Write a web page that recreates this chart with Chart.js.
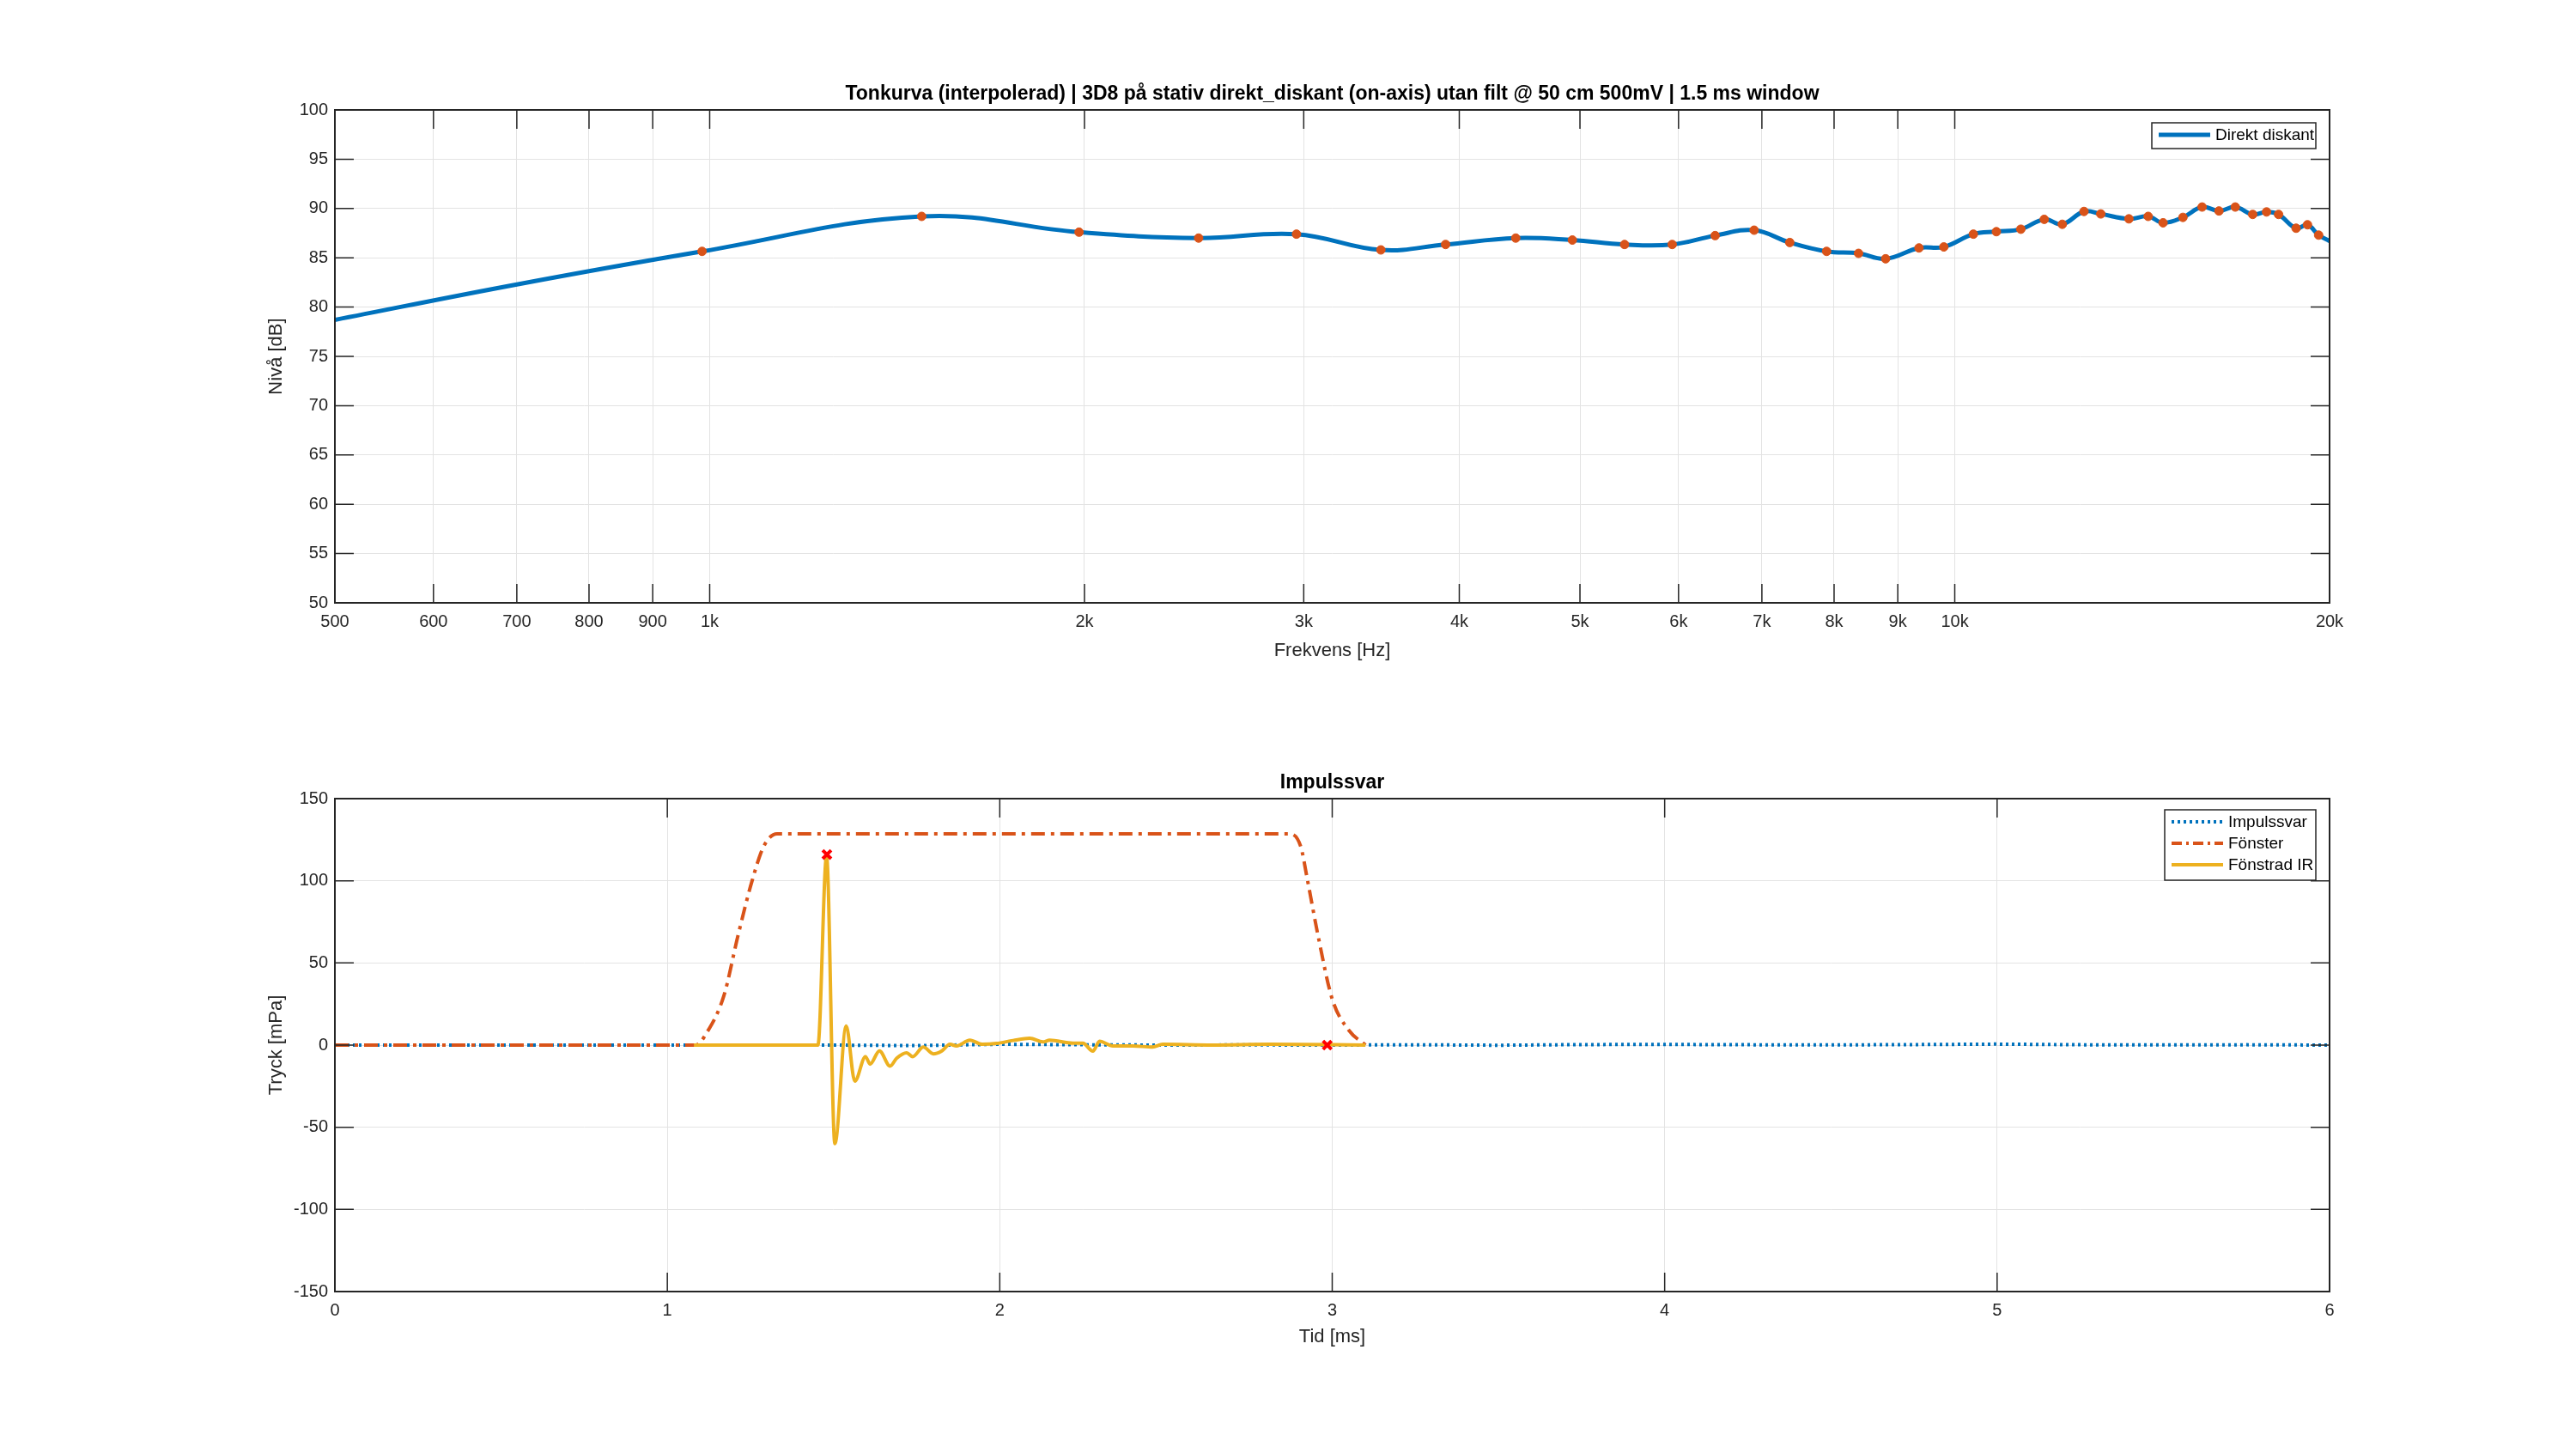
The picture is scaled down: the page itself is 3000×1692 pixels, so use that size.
<!DOCTYPE html>
<html><head><meta charset="utf-8">
<script src="https://cdn.jsdelivr.net/npm/chart.js@4"></script>
<style>body{margin:0;background:#fff}#w1,#w2{position:absolute;left:0;width:3000px;height:846px}#w1{top:0}#w2{top:846px}</style>
</head><body>
<div id="w1"><canvas id="c1"></canvas></div>
<div id="w2"><canvas id="c2"></canvas></div>
<script>
// ---- Top chart data ----
const freqTicks=[500,600,700,800,900,1000,2000,3000,4000,5000,6000,7000,8000,9000,10000,20000];
const freqTickLabels=['500','600','700','800','900','1k','2k','3k','4k','5k','6k','7k','8k','9k','10k','20k'];
const curveFreq=[500,700,986,1480,1980,2470,2960,3460,3900,4440,4930,5430,5930,6420,6900,7370,7890,8370,8800,9360,9800,10350,10800,11300,11800,12200,12700,13100,13800,14300,14700,15250,15800,16300,16800,17350,17800,18200,18800,19200,19600,20000];
const curveLevel=[78.7,82.3,85.65,89.2,87.6,87.0,87.4,85.8,86.35,87.0,86.8,86.35,86.35,87.25,87.8,86.55,85.65,85.45,84.9,86.0,86.1,87.4,87.65,87.9,88.9,88.4,89.7,89.45,88.95,89.2,88.55,89.1,90.15,89.75,90.15,89.4,89.65,89.4,88.0,88.35,87.3,86.7];
const markFreq=curveFreq.slice(2,-1);
const markLevel=curveLevel.slice(2,-1);
// ---- Bottom chart data ----
const impT=[0,0.25,0.5,0.75,1,1.25,1.5,1.75,2,2.25,2.5,2.75,3,3.25,3.5,3.75,4,4.25,4.5,4.75,5,5.25,5.5,5.75,6];
const impV=[0,0,0,0,0,0,0,-0.3,0.5,0.2,0,0.1,0,0.2,-0.1,0.3,0.4,0.2,0.1,0.3,0.6,0.2,0.1,0.2,0];
const winT=[0,1.085,1.12,1.17,1.213,1.255,1.29,1.33,2.87,2.905,2.926,2.957,3.0,3.05,3.1];
const winV=[0,0,8,30,67,100,121,128.6,128.6,121,100,67,28,9,0];
const firT=[1.08,1.453,1.479,1.504,1.538,1.564,1.596,1.61,1.638,1.67,1.69,1.72,1.738,1.77,1.80,1.826,1.85,1.87,1.91,1.947,1.99,2.04,2.09,2.13,2.15,2.22,2.25,2.28,2.30,2.34,2.40,2.46,2.49,2.64,2.81,3.1];
const firV=[0,0,115,-60,11.6,-22,-7,-11.6,-3.5,-12.8,-8,-4.7,-7,-1.2,-5.3,-3.5,0.5,-0.5,3,0.5,1,2.8,4.2,1.9,3,1.2,1.2,-3.7,2.3,-0.5,-0.5,-1.2,0.5,0,0.5,0];
const peakT=[1.48,2.985], peakV=[116,0];

const FONT='"Liberation Sans", Arial, sans-serif';
const zip=(a,b)=>a.map((x,i)=>({x,y:b[i]}));

function framePlugin(title,legend){
 return {id:'frame',afterDraw(ch){
  const c=ch.ctx,a=ch.chartArea;c.save();
  c.strokeStyle='#262626';c.lineWidth=2;
  c.strokeRect(a.left,a.top,a.right-a.left,a.bottom-a.top);
  const xs=ch.scales.x,ys=ch.scales.y;c.lineWidth=1.5;c.beginPath();
  xs.ticks.forEach(t=>{const p=xs.getPixelForValue(t.value);c.moveTo(p,a.top);c.lineTo(p,a.top+22);c.moveTo(p,a.bottom);c.lineTo(p,a.bottom-22);});
  ys.ticks.forEach(t=>{const p=ys.getPixelForValue(t.value);c.moveTo(a.left,p);c.lineTo(a.left+22,p);c.moveTo(a.right,p);c.lineTo(a.right-22,p);});
  c.stroke();
  c.fillStyle='#000';c.font='bold 23px '+FONT;c.textAlign='center';c.textBaseline='middle';
  c.fillText(title,(a.left+a.right)/2,a.top-18);
  const L=legend;c.fillStyle='#fff';c.fillRect(L.x,L.y,L.w,L.h);c.strokeStyle='#262626';c.lineWidth=1.5;c.strokeRect(L.x,L.y,L.w,L.h);
  c.font='19px '+FONT;c.textAlign='left';
  L.items.forEach((it,i)=>{const yy=L.y+14+i*25;c.strokeStyle=it.color;c.lineWidth=it.w;c.setLineDash(it.dash||[]);
   c.beginPath();c.moveTo(L.x+8,yy);c.lineTo(L.x+68,yy);c.stroke();c.setLineDash([]);c.fillStyle='#000';c.fillText(it.text,L.x+74,yy+1);});
  c.restore();}};
}
const gridCol='#e3e3e3';
function tickFont(){return {family:FONT,size:20};}
function titleFont(){return {family:FONT,size:22};}

new Chart(document.getElementById('c1'),{
 type:'line',
 data:{datasets:[
  {data:zip(markFreq,markLevel),showLine:false,pointRadius:5,pointBackgroundColor:'#D95319',pointBorderColor:'#D95319',order:0},
  {data:zip(curveFreq,curveLevel),borderColor:'#0072BD',borderWidth:5,pointRadius:0,tension:0.4,fill:false,order:1}
 ]},
 options:{responsive:true,maintainAspectRatio:false,animation:false,
  layout:{padding:{top:128,left:305,right:287,bottom:71}},
  plugins:{legend:{display:false},tooltip:{enabled:false}},
  scales:{
   x:{type:'logarithmic',min:500,max:20000,
    afterBuildTicks:s=>{s.ticks=freqTicks.map(v=>({value:v}));},
    afterFit:s=>{s.height=73;},
    ticks:{font:tickFont(),color:'#262626',padding:10,maxRotation:0,autoSkip:false,callback:(v)=>{const i=freqTicks.indexOf(v);return i>=0?freqTickLabels[i]:'';}},
    grid:{color:gridCol,drawTicks:false},border:{display:false},
    title:{display:true,text:'Frekvens [Hz]',font:titleFont(),color:'#262626'}},
   y:{min:50,max:100,afterFit:s=>{s.width=85;},
    ticks:{stepSize:5,font:tickFont(),color:'#262626',padding:8},
    grid:{color:gridCol,drawTicks:false},border:{display:false},
    title:{display:true,text:'Nivå [dB]',font:titleFont(),color:'#262626'}}
  }},
 plugins:[framePlugin('Tonkurva (interpolerad) | 3D8 på stativ direkt_diskant (on-axis) utan filt @ 50 cm 500mV | 1.5 ms window',
  {x:2506,y:143,w:191,h:30,items:[{color:'#0072BD',w:5,text:'Direkt diskant'}]})]
});

new Chart(document.getElementById('c2'),{
 type:'line',
 data:{datasets:[
  {label:'peaks',data:zip(peakT,peakV),showLine:false,pointStyle:'crossRot',pointRadius:7,borderWidth:4,pointBorderColor:'#FF0000',order:-1},
  {data:zip(firT,firV),borderColor:'#EDB120',borderWidth:4,pointRadius:0,cubicInterpolationMode:'monotone',order:0},
  {data:zip(winT,winV),borderColor:'#D95319',borderWidth:4,borderDash:[16,7,4,7],pointRadius:0,cubicInterpolationMode:'monotone',order:1},
  {data:zip(impT,impV),borderColor:'#0072BD',borderWidth:4,borderDash:[3,4],pointRadius:0,order:2}
 ]},
 options:{responsive:true,maintainAspectRatio:false,animation:false,
  layout:{padding:{top:84,left:305,right:287,bottom:118}},
  plugins:{legend:{display:false},tooltip:{enabled:false}},
  scales:{
   x:{type:'linear',min:0,max:6,afterFit:s=>{s.height=70;},
    ticks:{stepSize:1,font:tickFont(),color:'#262626',padding:10,maxRotation:0},
    grid:{color:gridCol,drawTicks:false},border:{display:false},
    title:{display:true,text:'Tid [ms]',font:titleFont(),color:'#262626'}},
   y:{min:-150,max:150,afterFit:s=>{s.width=85;},
    ticks:{stepSize:50,font:tickFont(),color:'#262626',padding:8},
    grid:{color:gridCol,drawTicks:false},border:{display:false},
    title:{display:true,text:'Tryck [mPa]',font:titleFont(),color:'#262626'}}
  }},
 plugins:[framePlugin('Impulssvar',
  {x:2521,y:97,w:176,h:82,items:[
   {color:'#0072BD',w:4,dash:[3,4],text:'Impulssvar'},
   {color:'#D95319',w:4,dash:[12,5,3,5],text:'Fönster'},
   {color:'#EDB120',w:4,text:'Fönstrad IR'}]})]
});
</script>
</body></html>
